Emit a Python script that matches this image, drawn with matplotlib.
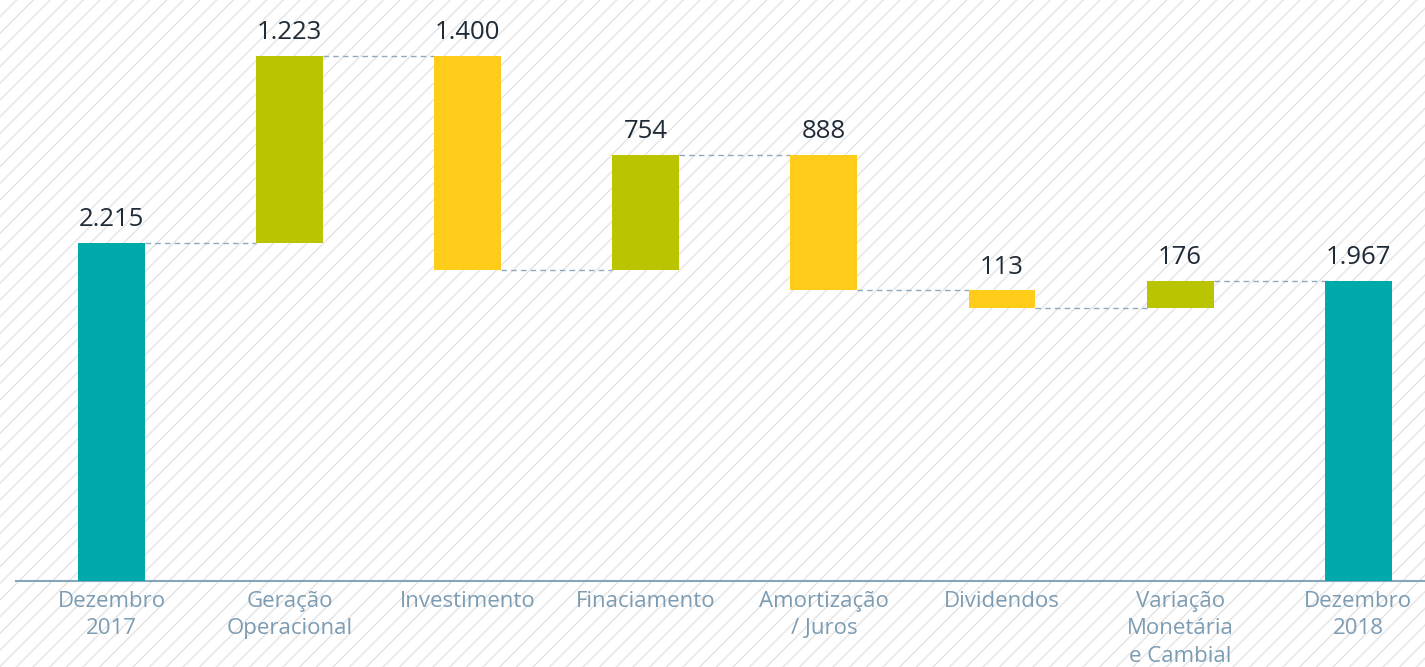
import matplotlib.pyplot as plt
import matplotlib.patches as mpatches
import numpy as np

categories = ["Dezembro\n2017", "Geração\nOperacional", "Investimento", "Finaciamento",
              "Amortização\n/ Juros", "Dividendos", "Variação\nMonetária\ne Cambial", "Dezembro\n2018"]
values = [2215, 1223, -1400, 754, -888, -113, 176, 1967]
labels = ["2.215", "1.223", "1.400", "754", "888", "113", "176", "1.967"]
kinds = ["total", "up", "down", "up", "down", "down", "up", "total"]

colors = {"total": "#00A9AC", "up": "#BAC400", "down": "#FFCD19"}

plt.rcParams['font.family'] = ['Open Sans', 'DejaVu Sans']
plt.rcParams['hatch.color'] = '#E4E4E4'
plt.rcParams['hatch.linewidth'] = 1.0

fig = plt.figure(figsize=(14.25, 6.67), dpi=100)
bg = mpatches.Rectangle((0, 0), 1, 1, transform=fig.transFigure, facecolor='white',
                        hatch='//', edgecolor='#E4E4E4', linewidth=0, zorder=-10)
fig.patches.append(bg)

ax = fig.add_axes([16 / 1425, 86 / 667, 1 - 16 / 1425, 581 / 667])
ax.patch.set_alpha(0)

x = np.arange(len(values))
bottoms = []
tops = []
running = 0
for v, k in zip(values, kinds):
    if k == "total":
        b, t = 0, v
        running = v
    else:
        start = running
        running = running + v
        b, t = min(start, running), max(start, running)
    bottoms.append(b)
    tops.append(t)
bottoms = np.array(bottoms)
tops = np.array(tops)

w = 0.376
ax.bar(x, tops - bottoms, bottom=bottoms, width=w,
       color=[colors[k] for k in kinds], zorder=3)

# connectors
level = 0
for i in range(len(values) - 1):
    if kinds[i] == "total":
        level = values[i]
    else:
        level = level + values[i]
    ax.plot([x[i] + w / 2, x[i + 1] - w / 2], [level, level], ls=(0, (4, 3)),
            color='#8FA9BE', lw=1.0, zorder=2)

for xi, t, lb in zip(x, tops, labels):
    ax.text(xi, t + 70, lb, ha='center', va='bottom', fontsize=18.5, color='#1F2B36')

ax.set_xlim(-0.536, 7.375)
ax.set_ylim(0, 3805)
ax.set_xticks(x)
ax.set_xticklabels(categories, fontsize=16, color='#7C9CB3', linespacing=1.4)
ax.tick_params(axis='x', length=0, pad=7)
ax.set_yticks([])
for s in ['top', 'right', 'left']:
    ax.spines[s].set_visible(False)
ax.spines['bottom'].set_color('#86A5BA')
ax.spines['bottom'].set_linewidth(1.5)

plt.savefig("out.png", dpi=100)
